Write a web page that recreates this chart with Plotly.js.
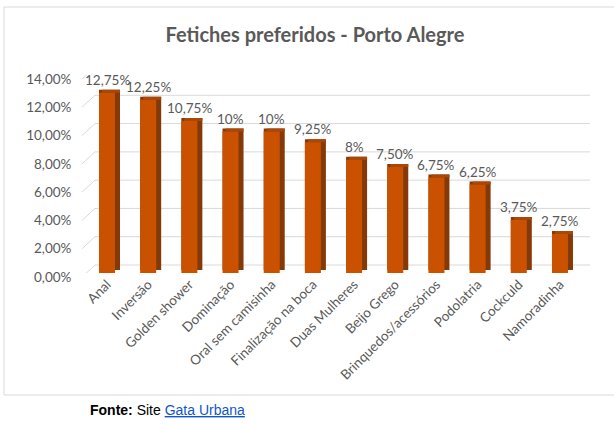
<!DOCTYPE html>
<html>
<head>
<meta charset="utf-8">
<script src="https://cdn.plot.ly/plotly-3.0.1.min.js"></script>
<style>
  html, body { margin: 0; padding: 0; background: #ffffff; }
  #chart { width: 614px; height: 424px; }
</style>
</head>
<body>
<div id="chart"></div>
<script>
// ---- data ----
const categories = ["Anal", "Inversão", "Golden shower", "Dominação", "Oral sem camisinha",
  "Finalização na boca", "Duas Mulheres", "Beijo Grego", "Brinquedos/acessórios",
  "Podolatria", "Cockculd", "Namoradinha"];
const values = [12.75, 12.25, 10.75, 10, 10, 9.25, 8, 7.5, 6.75, 6.25, 3.75, 2.75];
const valueLabels = ["12,75%", "12,25%", "10,75%", "10%", "10%", "9,25%", "8%", "7,50%",
  "6,75%", "6,25%", "3,75%", "2,75%"];
const yTickVals = [0, 2, 4, 6, 8, 10, 12, 14];
const yTickText = ["0,00%", "2,00%", "4,00%", "6,00%", "8,00%", "10,00%", "12,00%", "14,00%"];

// ---- geometry helpers (pixels -> paper fractions) ----
const W = 614, H = 424;
const px = v => v / W;
const py = v => 1 - v / H;
const pxPerUnit = 198 / 14;          // pixels per percentage point
const u = p => p / pxPerUnit;        // pixel -> data units
const catW = 41.18;                  // pixels per category

const frontColor = "#C95100";
const sideColor = "#843A08";
const topColor = "#A84708";
const textColor = "#595959";
const font = "Lato, 'Open Sans', sans-serif";

// side face (darker, offset back/right)
const sideTrace = {
  type: "bar",
  x: categories,
  y: values,
  base: values.map(() => u(3)),
  width: 21 / catW,
  offset: -8 / catW,
  marker: { color: sideColor, line: { width: 0 } },
  hoverinfo: "skip",
  showlegend: false
};
// top face (thin band above each bar)
const topTrace = {
  type: "bar",
  x: categories,
  y: values.map(() => u(3)),
  base: values,
  width: 18 / catW,
  offset: -5 / catW,
  marker: { color: topColor, line: { width: 0 } },
  hoverinfo: "skip",
  showlegend: false
};
// front face
const frontTrace = {
  type: "bar",
  x: categories,
  y: values,
  width: 16 / catW,
  offset: -8 / catW,
  marker: { color: frontColor, line: { width: 0 } },
  hoverinfo: "skip",
  showlegend: false
};

// back-wall gridlines + floor slants
const shapes = [];
yTickVals.forEach(v => {
  shapes.push({
    type: "line", layer: "below", xref: "paper", yref: "y",
    x0: px(95), x1: px(590), y0: v + u(8), y1: v + u(8),
    line: { color: "#D9D9D9", width: 1 }
  });
  shapes.push({
    type: "line", layer: "below", xref: "paper", yref: "y",
    x0: px(82), x1: px(95), y0: v - u(4), y1: v + u(8),
    line: { color: "#D9D9D9", width: 1 }
  });
});
// outer chart border
shapes.push({
  type: "rect", layer: "below", xref: "paper", yref: "paper",
  x0: px(4), x1: px(620), y0: py(395), y1: py(7),
  line: { color: "#D9D9D9", width: 1 }, fillcolor: "rgba(0,0,0,0)"
});

const annotations = categories.map((c, i) => ({
  x: c, y: values[i], xref: "x", yref: "y",
  text: valueLabels[i], showarrow: false,
  yanchor: "bottom", yshift: 3,
  font: { family: font, size: 13.5, color: textColor }
}));
annotations.push({
  xref: "paper", yref: "paper", x: px(88), y: py(410),
  xanchor: "left", yanchor: "middle", showarrow: false,
  text: "<b>Fonte:</b> Site <span style='color:#1155CC;text-decoration:underline'>Gata Urbana</span>",
  font: { family: "'Liberation Sans', Arial, sans-serif", size: 14, color: "#000000" }
});

const layout = {
  width: W, height: H,
  margin: { l: 0, r: 0, t: 0, b: 0 },
  paper_bgcolor: "#ffffff",
  plot_bgcolor: "rgba(0,0,0,0)",
  barmode: "overlay",
  showlegend: false,
  title: {
    text: "<b>Fetiches preferidos - Porto Alegre</b>",
    x: px(315), xanchor: "center", y: py(35), yanchor: "middle",
    font: { family: font, size: 20, color: textColor }
  },
  xaxis: {
    domain: [px(107 - catW / 2), px(107 + catW * 11.5)],
    range: [-0.5, 11.5],
    type: "category",
    tickangle: -45,
    tickfont: { family: font, size: 13.5, color: textColor },
    showgrid: false, zeroline: false, showline: false, ticks: "",
    fixedrange: true
  },
  yaxis: {
    domain: [py(273), py(75)],
    range: [0, 14],
    tickvals: yTickVals,
    ticktext: yTickText,
    ticklabelshift: 4,
    ticklabelstandoff: 14,
    tickfont: { family: font, size: 13.5, color: textColor },
    showgrid: false, zeroline: false, showline: false, ticks: "",
    fixedrange: true
  },
  shapes: shapes,
  annotations: annotations
};

Plotly.newPlot("chart", [sideTrace, topTrace, frontTrace], layout, { displayModeBar: false, staticPlot: true });
</script>
</body>
</html>
